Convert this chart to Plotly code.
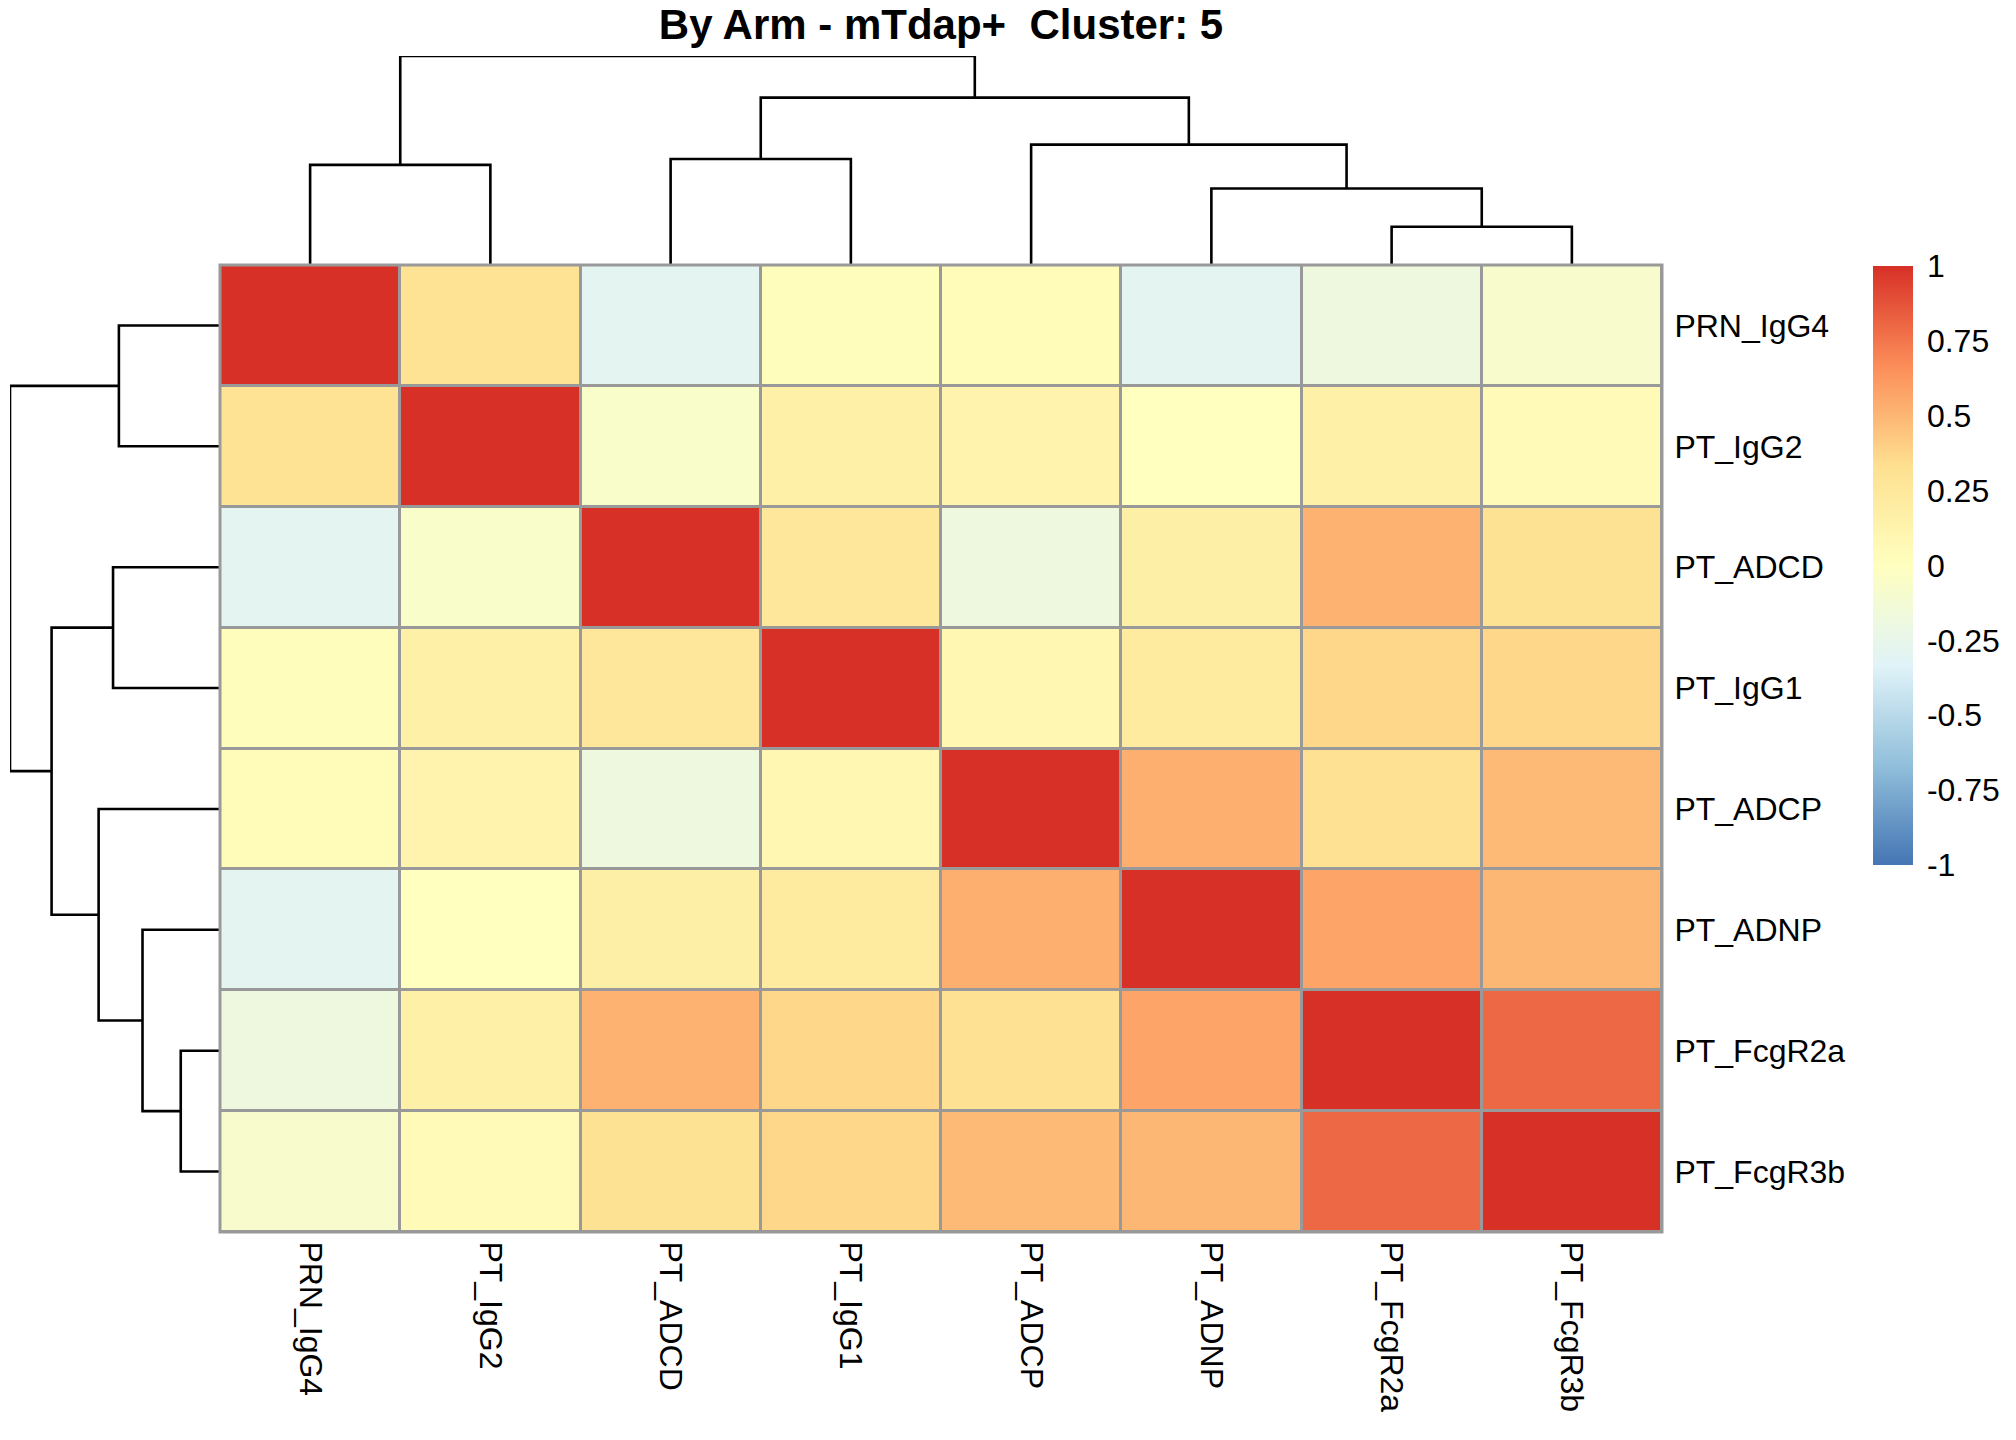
import plotly.graph_objects as go

# ---------------- data ----------------
labels = ["PRN_IgG4", "PT_IgG2", "PT_ADCD", "PT_IgG1",
          "PT_ADCP", "PT_ADNP", "PT_FcgR2a", "PT_FcgR3b"]

row_PRN_IgG4 = [1.00, 0.30, -0.29, 0.02, 0.04, -0.29, -0.19, -0.08]
row_PT_IgG2 = [0.30, 1.00, -0.06, 0.16, 0.13, 0.00, 0.16, 0.05]
row_PT_ADCD = [-0.29, -0.06, 1.00, 0.26, -0.19, 0.17, 0.52, 0.31]
row_PT_IgG1 = [0.02, 0.16, 0.26, 1.00, 0.09, 0.22, 0.37, 0.37]
row_PT_ADCP = [0.04, 0.13, -0.19, 0.09, 1.00, 0.53, 0.32, 0.49]
row_PT_ADNP = [-0.29, 0.00, 0.17, 0.22, 0.53, 1.00, 0.57, 0.50]
row_PT_FcgR2a = [-0.19, 0.16, 0.52, 0.37, 0.32, 0.57, 1.00, 0.80]
row_PT_FcgR3b = [-0.08, 0.05, 0.31, 0.37, 0.49, 0.50, 0.80, 1.00]

# hierarchical clustering merges (indices into labels; new clusters numbered 8, 9, ...)
merge_left = [6, 0, 2, 5, 4, 10, 9]
merge_right = [7, 1, 3, 8, 11, 12, 13]
merge_height = [0.183, 0.479, 0.507, 0.366, 0.576, 0.801, 1.000]

cbar_vals = [1, 0.75, 0.5, 0.25, 0, -0.25, -0.5, -0.75, -1]
cbar_text = ["1", "0.75", "0.5", "0.25", "0", "-0.25", "-0.5", "-0.75", "-1"]

title_text = "By Arm - mTdap+ \u00a0Cluster: 5"

# ---------------- helpers ----------------
z = [row_PRN_IgG4, row_PT_IgG2, row_PT_ADCD, row_PT_IgG1,
     row_PT_ADCP, row_PT_ADNP, row_PT_FcgR2a, row_PT_FcgR3b]

colorscale = [
    [0.0, "#4575B4"], [1 / 6, "#91BFDB"], [2 / 6, "#E0F3F8"],
    [3 / 6, "#FFFFBF"], [4 / 6, "#FEE090"], [5 / 6, "#FC8D59"], [1.0, "#D73027"],
]


def dendro_segments(n, left, right, heights):
    pos = {i: float(i) for i in range(n)}
    hgt = {i: 0.0 for i in range(n)}
    px, py = [], []
    for k, (a, b, h) in enumerate(zip(left, right, heights)):
        node = n + k
        px += [pos[a], pos[a], pos[b], pos[b], None]
        py += [hgt[a], h, h, hgt[b], None]
        pos[node] = (pos[a] + pos[b]) / 2
        hgt[node] = h
    return px, py


dx, dy = dendro_segments(len(labels), merge_left, merge_right, merge_height)

W, H = 2016, 1440
OFF = 0  # body margin removed by post_script


def px_x(X):
    return (X - OFF) / W


def px_y(Y):
    return 1 - (Y - OFF) / H


hm_x0, hm_x1 = 220, 1662
hm_y0, hm_y1 = 265, 1232
font_family = "Liberation Sans, Arial, sans-serif"
grid_col = "#999999"

fig = go.Figure()

fig.add_trace(go.Heatmap(
    z=z, x=labels, y=labels,
    zmin=-1, zmax=1, colorscale=colorscale,
    xgap=3, ygap=3,
    colorbar=dict(
        x=px_x(1873), xanchor="left", xpad=0,
        y=px_y(266), yanchor="top", ypad=0,
        lenmode="pixels", len=599,
        thickness=40, outlinewidth=0,
        tickmode="array", tickvals=cbar_vals, ticktext=cbar_text,
        ticks="outside", ticklen=8, tickcolor="rgba(0,0,0,0)",
        tickfont=dict(size=32, color="black", family=font_family),
    ),
    xaxis="x", yaxis="y",
))

# top dendrogram (columns)
fig.add_trace(go.Scatter(
    x=dx, y=dy, mode="lines", line=dict(color="black", width=2.6),
    xaxis="x2", yaxis="y2", showlegend=False, hoverinfo="skip", cliponaxis=False,
))
# left dendrogram (rows)
fig.add_trace(go.Scatter(
    x=dy, y=dx, mode="lines", line=dict(color="black", width=2.6),
    xaxis="x3", yaxis="y3", showlegend=False, hoverinfo="skip", cliponaxis=False,
))

xd = [px_x(hm_x0), px_x(hm_x1)]
yd = [px_y(hm_y1), px_y(hm_y0)]
n = len(labels)

fig.update_layout(
    width=W, height=H,
    margin=dict(l=0, r=0, t=0, b=0),
    paper_bgcolor="white", plot_bgcolor="white",
    showlegend=False,
    font=dict(family=font_family, color="black"),
    title=dict(text="<b>" + title_text + "</b>", x=px_x(941), xanchor="center",
               y=px_y(24), yanchor="middle", yref="paper",
               font=dict(size=42, color="black", family=font_family)),
    xaxis=dict(domain=xd, side="bottom", tickangle=90, showgrid=False, zeroline=False,
               showline=False, ticks="outside", ticklen=2, tickcolor="rgba(0,0,0,0)",
               tickfont=dict(size=32), automargin=False, fixedrange=True),
    yaxis=dict(domain=yd, side="right", autorange="reversed", showgrid=False,
               zeroline=False, showline=False, ticks="outside", ticklen=5,
               tickcolor="rgba(0,0,0,0)", tickfont=dict(size=32), automargin=False,
               fixedrange=True),
    xaxis2=dict(domain=xd, range=[-0.5, n - 0.5], visible=False, anchor="y2"),
    yaxis2=dict(domain=[px_y(hm_y0), px_y(56)], range=[0, 1.0], visible=False, anchor="x2"),
    xaxis3=dict(domain=[px_x(10), px_x(219)], range=[1.0, 0], visible=False, anchor="y3"),
    yaxis3=dict(domain=yd, range=[n - 0.5, -0.5], visible=False, anchor="x3"),
    shapes=[
        dict(type="rect", xref="x domain", yref="y domain", x0=0, x1=1, y0=0, y1=1,
             line=dict(width=0), fillcolor=grid_col, layer="below"),
        dict(type="rect", xref="x domain", yref="y domain", x0=0, x1=1, y0=0, y1=1,
             line=dict(color=grid_col, width=3), fillcolor="rgba(0,0,0,0)", layer="above"),
    ],
)

fig.write_html("out.html", config={"displayModeBar": False},
               post_script="document.body.style.margin='0';")
